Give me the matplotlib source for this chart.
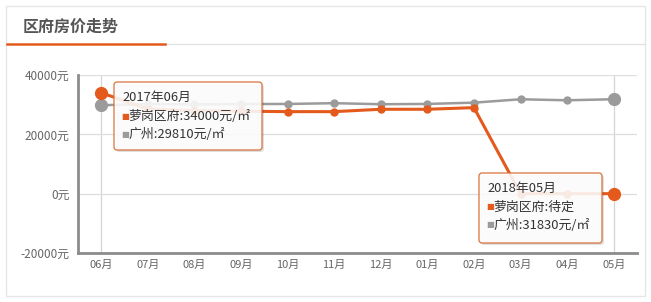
import matplotlib
matplotlib.use("Agg")
import matplotlib.pyplot as plt
import matplotlib.transforms as mtransforms
from matplotlib.patches import FancyBboxPatch, Rectangle
from matplotlib.lines import Line2D

plt.rcParams['font.family'] = ['Noto Sans CJK SC', 'DejaVu Sans']

months = ['06月', '07月', '08月', '09月', '10月', '11月', '12月',
          '01月', '02月', '03月', '04月', '05月']
luogang = [34000, 28500, 28000, 27800, 27650, 27650, 28450, 28450, 29000, 0, 0, 0]
guangzhou = [29810, 30200, 30100, 30200, 30240, 30500, 30150, 30250, 30680,
             31820, 31480, 31830]
yticks = [-20000, 0, 20000, 40000]
ytick_labels = ['-20000元', '0元', '20000元', '40000元']

ORANGE = '#e35a1c'
GRAY = '#9b9b9b'
W, H = 651, 302

fig = plt.figure(figsize=(W / 100, H / 100), dpi=100)
fig.patch.set_facecolor('white')
ident = mtransforms.IdentityTransform()


def fx(x):
    return x / W


def fy(y):
    return 1 - y / H


# outer frame + header
fig.add_artist(Rectangle((6, H - 296), 639, 290, transform=ident,
                         fill=False, edgecolor='#e6e6e6', lw=1))
fig.text(fx(23), fy(27), '区府房价走势', fontsize=11.5, fontweight='bold',
         color='#555555', va='center', ha='left')
fig.add_artist(Line2D([fx(165), fx(645)], [fy(44), fy(44)], color='#e3e3e3', lw=1))
fig.add_artist(Line2D([fx(7), fx(165)], [fy(44), fy(44)], color=ORANGE, lw=1.8))

ax = fig.add_axes([fx(78), fy(253), fx(637) - fx(78), fy(75) - fy(253)])
x = list(range(len(months)))

ax.plot(x, guangzhou, color=GRAY, lw=1.8, marker='o', ms=5, zorder=3)
ax.plot(x, luogang, color=ORANGE, lw=2.2, marker='o', ms=5, zorder=4)
# highlighted points
for i in (0, len(months) - 1):
    ax.plot(i, guangzhou[i], 'o', color=GRAY, ms=8.5, zorder=5)
    ax.plot(i, luogang[i], 'o', color=ORANGE, ms=8.5, zorder=6)
    ax.axvline(i, color='#d5d5d5', lw=0.9, zorder=1)

ax.set_xlim(-0.5, 11.5)
ax.set_ylim(-20000, 40000)
ax.set_xticks(x)
ax.set_xticklabels(months, fontsize=8, color='#666666')
ax.set_yticks(yticks)
ax.set_yticklabels(ytick_labels, fontsize=8.5, color='#666666')
ax.tick_params(length=0, pad=6)
ax.tick_params(axis='x', pad=5)
for yv in yticks[1:]:
    ax.axhline(yv, color='#dddddd', lw=0.9, zorder=1)
for s in ('top', 'right'):
    ax.spines[s].set_visible(False)
for s in ('left', 'bottom'):
    ax.spines[s].set_color('#8c8c8c')
    ax.spines[s].set_linewidth(2)
ax.set_facecolor('none')


def tooltip(x0, y0, x1, y1, title, lines):
    w, h = x1 - x0, y1 - y0
    fig.add_artist(FancyBboxPatch((x0 + 2, H - y1 - 2), w, h, transform=ident,
                                  boxstyle='round,pad=0,rounding_size=3',
                                  facecolor='#000000', alpha=0.12, lw=0, zorder=20))
    fig.add_artist(FancyBboxPatch((x0, H - y1), w, h, transform=ident,
                                  boxstyle='round,pad=0,rounding_size=3',
                                  facecolor='white', alpha=0.88, lw=0, zorder=21))
    fig.add_artist(FancyBboxPatch((x0, H - y1), w, h, transform=ident,
                                  boxstyle='round,pad=0,rounding_size=3',
                                  fill=False, edgecolor='#d9733f', lw=0.9, zorder=22))
    fig.text(fx(x0 + 8), fy(y0 + 15.5), title, fontsize=9.3, color='#333333',
             va='center', zorder=23)
    for k, (col, txt) in enumerate(lines):
        yy = y0 + 34 + k * 18
        fig.text(fx(x0 + 7), fy(yy), '■', fontsize=6, color=col,
                 va='center', zorder=23, family=['DejaVu Sans'])
        fig.text(fx(x0 + 14.5), fy(yy), txt, fontsize=9.3, color='#333333',
                 va='center', zorder=23)


tooltip(114, 82, 262, 150, '2017年06月',
        [(ORANGE, '萝岗区府:%d元/㎡' % luogang[0]),
         (GRAY, '广州:%d元/㎡' % guangzhou[0])])
tooltip(479, 173, 602, 243, '2018年05月',
        [(ORANGE, '萝岗区府:待定'),
         (GRAY, '广州:%d元/㎡' % guangzhou[-1])])

fig.savefig('out.png', dpi=100)
